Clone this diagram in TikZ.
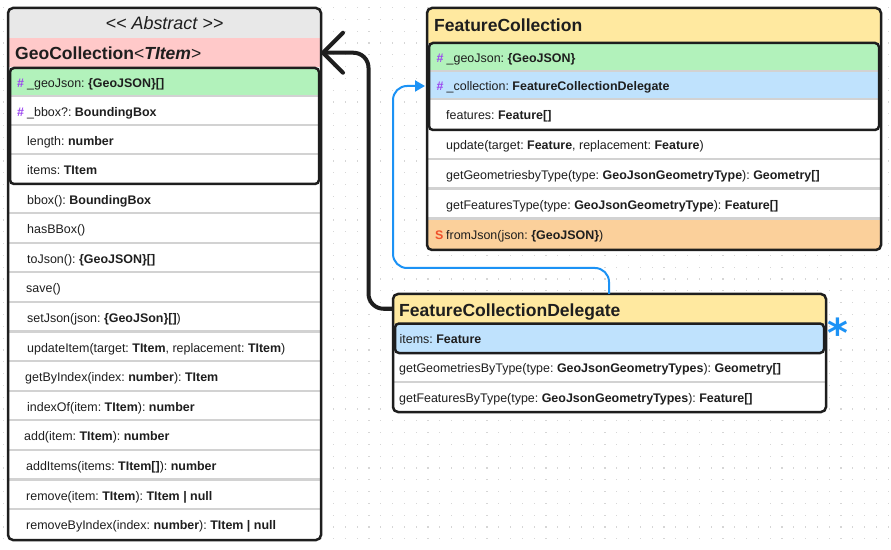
\documentclass[tikz,border=0pt]{standalone}
\usepackage{fontspec}
\setmainfont{Liberation Sans}
\newfontfamily\djv{DejaVu Sans}
\usetikzlibrary{arrows.meta}
\frenchspacing
\definecolor{ink}{HTML}{1E1E1E}
\definecolor{hdrgray}{HTML}{E8E8E8}
\definecolor{pinkf}{HTML}{FFC9C9}
\definecolor{greenf}{HTML}{B2F2BB}
\definecolor{bluef}{HTML}{BFE2FD}
\definecolor{yellowf}{HTML}{FFE9A0}
\definecolor{orangef}{HTML}{FBD09B}
\definecolor{sepgray}{HTML}{D2D2D2}
\definecolor{dotgray}{HTML}{D6D6D6}
\definecolor{hashc}{HTML}{9B46F0}
\definecolor{statc}{HTML}{F0502A}
\definecolor{linkblue}{HTML}{1C92F5}
\newcommand{\rowbox}[6]{\node[rowbg, fill=#6, minimum width=#4bp, minimum height=#5bp] (#1) at (#2,#3) {};}
\newcommand{\rowtext}[4]{\node[rtxt] (#1) at ([xshift=#3bp,yshift=-4.8bp]#2.west) {#4};}
\newcommand{\hashmark}{\makebox[10bp][l]{\textcolor{hashc}{\textbf{\#}}}}
\newcommand{\statmark}{\makebox[11bp][l]{\textcolor{statc}{\textbf{S}}}}
\begin{document}
\begin{tikzpicture}[x=1bp,y=-1bp,
  rowbg/.style={inner sep=0pt, outer sep=0pt, anchor=north west, draw=none},
  rtxt/.style={inner sep=0pt, anchor=base west, text=ink, font=\fontsize{12.5}{15}\selectfont},
  htxt/.style={inner sep=0pt, anchor=base west, text=ink, font=\fontsize{17.6}{21}\selectfont\bfseries},
  outerbox/.style={draw=ink, line width=2.5bp, rounded corners=5bp},
  innerbox/.style={draw=ink, line width=2.5bp, rounded corners=4bp},
  sepline/.style={draw=sepgray, line width=2.2bp},
  blkconn/.style={draw=ink, line width=4bp, rounded corners=15bp, -{Straight Barb[length=20bp,width=40bp,round]}},
  bluconn/.style={draw=linkblue, line width=2bp, rounded corners=14bp, -{Triangle[length=10bp,width=11bp]}},
]
\useasboundingbox (0,0) rectangle (891,550);
\fill[white] (0,0) rectangle (891,550);
% dotted grid
\foreach \i in {0,...,75}{
  \foreach \j in {0,...,46}{
    \fill[dotgray] ({3.1+\i*11.8-0.6},{7.7+\j*11.8-0.6}) rectangle ++(1.2,1.2);
  }
}

% ================= GeoCollection =================
\begin{scope}
\clip[rounded corners=5bp] (8,8) rectangle (321,540);
\rowbox{gcAbs}{8}{8}{313}{30}{hdrgray}
\rowbox{gcTitle}{8}{38}{313}{29.5}{pinkf}
\rowbox{gcA1}{10}{68}{309}{29}{greenf}
\rowbox{gcA2}{10}{97}{309}{29}{white}
\rowbox{gcA3}{10}{126}{309}{29}{white}
\rowbox{gcA4}{10}{155}{309}{29}{white}
\rowbox{gcM1}{8}{184.5}{313}{29.6}{white}
\rowbox{gcM2}{8}{214.1}{313}{29.6}{white}
\rowbox{gcM3}{8}{243.7}{313}{29.6}{white}
\rowbox{gcM4}{8}{273.3}{313}{29.6}{white}
\rowbox{gcM5}{8}{302.9}{313}{29.6}{white}
\rowbox{gcM6}{8}{332.5}{313}{29.6}{white}
\rowbox{gcM7}{8}{362.1}{313}{29.6}{white}
\rowbox{gcM8}{8}{391.7}{313}{29.6}{white}
\rowbox{gcM9}{8}{421.3}{313}{29.6}{white}
\rowbox{gcM10}{8}{450.9}{313}{29.6}{white}
\rowbox{gcM11}{8}{480.5}{313}{29.6}{white}
\rowbox{gcM12}{8}{510.1}{313}{29.6}{white}
\foreach \yy in {96,125,154}{\draw[sepline] (10,\yy) -- (319,\yy);}
\foreach \yy in {213.1,242.7,272.3,301.9,331.5,361.1,390.7,420.3,449.9,479.5,509.1}{\draw[sepline] (8,\yy) -- (321,\yy);}
\end{scope}
\node[inner sep=0pt, text=ink, font=\fontsize{18}{21}\selectfont\itshape] (gcAbsT) at ([yshift=-0.3bp]gcAbs.center) {<{}< Abstract >{}>};
\node[htxt] (gcTitleT) at ([xshift=7bp,yshift=-6.3bp]gcTitle.west) {GeoCollection{\mdseries<}\textit{TItem}{\mdseries>}};
\rowtext{gcA1T}{gcA1}{7}{\hashmark\_geoJson: \textbf{\{GeoJSON\}[]}}
\rowtext{gcA2T}{gcA2}{7}{\hashmark\_bbox?: \textbf{BoundingBox}}
\rowtext{gcA3T}{gcA3}{17}{length: \textbf{number}}
\rowtext{gcA4T}{gcA4}{17}{items: \textbf{TItem}}
\rowtext{gcM1T}{gcM1}{19}{bbox(): \textbf{BoundingBox}}
\rowtext{gcM2T}{gcM2}{19}{hasBBox()}
\rowtext{gcM3T}{gcM3}{19}{toJson(): \textbf{\{GeoJSON\}[]}}
\rowtext{gcM4T}{gcM4}{18}{save()}
\rowtext{gcM5T}{gcM5}{19}{setJson(json: \textbf{\{GeoJSon\}[]})}
\rowtext{gcM6T}{gcM6}{19}{updateItem(target: \textbf{TItem}, replacement: \textbf{TItem})}
\rowtext{gcM7T}{gcM7}{17}{getByIndex(index: \textbf{number}): \textbf{TItem}}
\rowtext{gcM8T}{gcM8}{19}{indexOf(item: \textbf{TItem}): \textbf{number}}
\rowtext{gcM9T}{gcM9}{16}{add(item: \textbf{TItem}): \textbf{number}}
\rowtext{gcM10T}{gcM10}{18}{addItems(items: \textbf{TItem[]}): \textbf{number}}
\rowtext{gcM11T}{gcM11}{18}{remove(item: \textbf{TItem}): \textbf{TItem | null}}
\rowtext{gcM12T}{gcM12}{18}{removeByIndex(index: \textbf{number}): \textbf{TItem | null}}
\draw[innerbox] (10,68) rectangle (319,184);
\draw[outerbox] (8,8) rectangle (321,540);

% ================= FeatureCollection =================
\begin{scope}
\clip[rounded corners=5bp] (427,8) rectangle (881,250);
\rowbox{fcHead}{427}{8}{454}{35}{yellowf}
\rowbox{fcA1}{429}{43}{450}{29}{greenf}
\rowbox{fcCol}{429}{72}{450}{28}{bluef}
\rowbox{fcA3}{429}{100}{450}{30}{white}
\rowbox{fcM1}{427}{130}{454}{30}{white}
\rowbox{fcM2}{427}{160}{454}{29.5}{white}
\rowbox{fcM3}{427}{189.5}{454}{30}{white}
\rowbox{fcM4}{427}{219.5}{454}{30.5}{orangef}
\foreach \yy in {71,99}{\draw[sepline] (429,\yy) -- (879,\yy);}
\foreach \yy in {159,188.5,218.5}{\draw[sepline] (427,\yy) -- (881,\yy);}
\end{scope}
\node[htxt] (fcHeadT) at ([xshift=7bp,yshift=-6.3bp]fcHead.west) {FeatureCollection};
\rowtext{fcA1T}{fcA1}{7.5}{\hashmark\_geoJson: \textbf{\{GeoJSON\}}}
\rowtext{fcColT}{fcCol}{7.5}{\hashmark\_collection: \textbf{FeatureCollectionDelegate}}
\rowtext{fcA3T}{fcA3}{17}{features: \textbf{Feature[]}}
\rowtext{fcM1T}{fcM1}{19}{update(target: \textbf{Feature}, replacement: \textbf{Feature})}
\rowtext{fcM2T}{fcM2}{19}{getGeometriesbyType(type: \textbf{GeoJsonGeometryType}): \textbf{Geometry[]}}
\rowtext{fcM3T}{fcM3}{19}{getFeaturesType(type: \textbf{GeoJsonGeometryType}): \textbf{Feature[]}}
\rowtext{fcM4T}{fcM4}{8}{\statmark fromJson(json: \textbf{\{GeoJSON\}})}
\draw[innerbox] (429,43) rectangle (879,130);
\draw[outerbox] (427,8) rectangle (881,250);

% ================= FeatureCollectionDelegate =================
\begin{scope}
\clip[rounded corners=5bp] (393,294) rectangle (826,412);
\rowbox{fcdHead}{393}{294}{433}{29.5}{yellowf}
\rowbox{fcdItems}{395}{323.5}{429}{29.5}{bluef}
\rowbox{fcdM1}{393}{353}{433}{30}{white}
\rowbox{fcdM2}{393}{383}{433}{29}{white}
\draw[sepline] (393,382) -- (826,382);
\end{scope}
\node[htxt] (fcdHeadT) at ([xshift=6bp,yshift=-7.3bp]fcdHead.west) {FeatureCollectionDelegate};
\rowtext{fcdItemsT}{fcdItems}{4.5}{items: \textbf{Feature}}
\rowtext{fcdM1T}{fcdM1}{6}{getGeometriesByType(type: \textbf{GeoJsonGeometryTypes}): \textbf{Geometry[]}}
\rowtext{fcdM2T}{fcdM2}{6}{getFeaturesByType(type: \textbf{GeoJsonGeometryTypes}): \textbf{Feature[]}}
\draw[innerbox] (395,323.5) rectangle (824,353);
\draw[outerbox] (393,294) rectangle (826,412);

% multiplicity
\node[inner sep=0pt, anchor=base, text=linkblue, font=\djv\bfseries\fontsize{40}{40}\selectfont] (mult) at (837.5,348) {*};

% ================= connectors =================
\coordinate (bk1) at ([xshift=47.5bp]gcTitle.east);
\draw[blkconn] (fcdHead.west) -| (bk1) -- (gcTitle.east);
\coordinate (bl1) at (393,268);
\draw[bluconn] ([xshift=216bp]fcdHead.north west) |- (bl1) |- ([xshift=-4bp]fcCol.west);
\end{tikzpicture}
\end{document}
